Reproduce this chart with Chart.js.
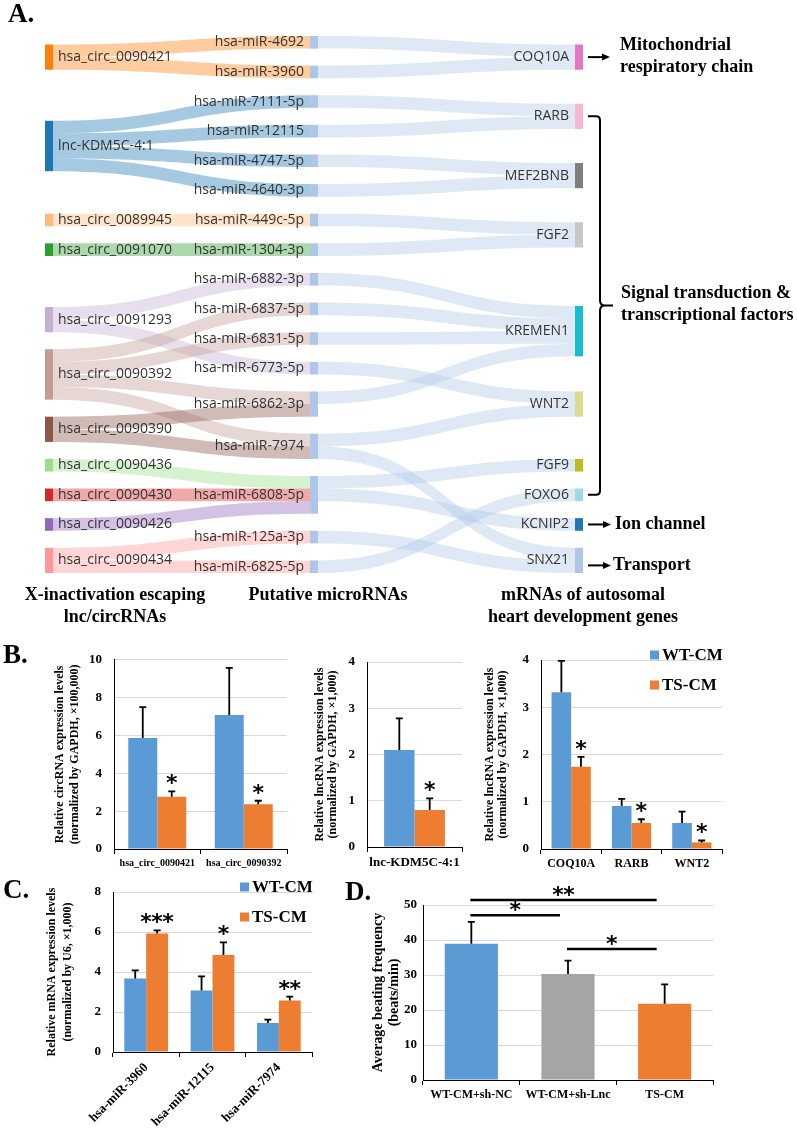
<!DOCTYPE html>
<html>
<head>
<meta charset="utf-8">
<script src="https://cdn.jsdelivr.net/npm/chart.js@4.4.0/dist/chart.umd.min.js"></script>
<style>
  html, body { margin: 0; padding: 0; background: #fff; }
  #page { position: relative; width: 797px; height: 1128px; overflow: hidden; font-family: "Liberation Serif", serif; }
  canvas { position: absolute; }
  .lbl { position: absolute; font-weight: bold; color: #000; white-space: nowrap; }
  .panel { font-size: 27px; line-height: 1; }
  .coltitle { font-size: 18px; line-height: 22px; text-align: center; width: 260px; }
</style>
</head>
<body>
<div id="page">
  <canvas id="sankey" width="797" height="640" style="left:0;top:0;width:797px;height:640px"></canvas>
  <canvas id="circChart" width="250" height="240" style="left:50px;top:640px;width:250px;height:240px"></canvas>
  <canvas id="lncChart" width="170" height="240" style="left:300px;top:640px;width:170px;height:240px"></canvas>
  <canvas id="geneChart" width="327" height="250" style="left:470px;top:630px;width:327px;height:250px"></canvas>
  <canvas id="mirChart" width="300" height="258" style="left:40px;top:870px;width:300px;height:258px"></canvas>
  <canvas id="beatChart" width="457" height="258" style="left:340px;top:870px;width:457px;height:258px"></canvas>

  <div class="lbl panel" style="left:8px;top:0px">A.</div>
  <div class="lbl panel" style="left:3px;top:641px">B.</div>
  <div class="lbl panel" style="left:3px;top:876px">C.</div>
  <div class="lbl panel" style="left:345px;top:878px">D.</div>
  <div class="lbl coltitle" style="left:-15px;top:583px">X-inactivation escaping<br>lnc/circRNAs</div>
  <div class="lbl coltitle" style="left:198px;top:583px">Putative microRNAs</div>
  <div class="lbl coltitle" style="left:453px;top:583px">mRNAs of autosomal<br>heart development genes</div>
</div>
<script>
// ---------- A. escaping lnc/circRNAs -> microRNAs -> autosomal genes
var escapingRNAs = ['hsa_circ_0090421', 'lnc-KDM5C-4:1', 'hsa_circ_0089945', 'hsa_circ_0091070',
  'hsa_circ_0091293', 'hsa_circ_0090392', 'hsa_circ_0090390', 'hsa_circ_0090436',
  'hsa_circ_0090430', 'hsa_circ_0090426', 'hsa_circ_0090434'];
var putativeMiRNAs = ['hsa-miR-4692', 'hsa-miR-3960', 'hsa-miR-7111-5p', 'hsa-miR-12115',
  'hsa-miR-4747-5p', 'hsa-miR-4640-3p', 'hsa-miR-449c-5p', 'hsa-miR-1304-3p', 'hsa-miR-6882-3p',
  'hsa-miR-6837-5p', 'hsa-miR-6831-5p', 'hsa-miR-6773-5p', 'hsa-miR-6862-3p', 'hsa-miR-7974',
  'hsa-miR-6808-5p', 'hsa-miR-125a-3p', 'hsa-miR-6825-5p'];
var heartGenes = ['COQ10A', 'RARB', 'MEF2BNB', 'FGF2', 'KREMEN1', 'WNT2', 'FGF9', 'FOXO6', 'KCNIP2', 'SNX21'];

var rnaMiRNALinks = [
  ['hsa_circ_0090421', 'hsa-miR-4692'], ['hsa_circ_0090421', 'hsa-miR-3960'],
  ['lnc-KDM5C-4:1', 'hsa-miR-7111-5p'], ['lnc-KDM5C-4:1', 'hsa-miR-12115'],
  ['lnc-KDM5C-4:1', 'hsa-miR-4747-5p'], ['lnc-KDM5C-4:1', 'hsa-miR-4640-3p'],
  ['hsa_circ_0089945', 'hsa-miR-449c-5p'], ['hsa_circ_0091070', 'hsa-miR-1304-3p'],
  ['hsa_circ_0091293', 'hsa-miR-6882-3p'], ['hsa_circ_0091293', 'hsa-miR-6773-5p'],
  ['hsa_circ_0090392', 'hsa-miR-6837-5p'], ['hsa_circ_0090392', 'hsa-miR-6831-5p'],
  ['hsa_circ_0090392', 'hsa-miR-6862-3p'], ['hsa_circ_0090392', 'hsa-miR-7974'],
  ['hsa_circ_0090390', 'hsa-miR-6862-3p'], ['hsa_circ_0090390', 'hsa-miR-7974'],
  ['hsa_circ_0090436', 'hsa-miR-6808-5p'], ['hsa_circ_0090430', 'hsa-miR-6808-5p'],
  ['hsa_circ_0090426', 'hsa-miR-6808-5p'],
  ['hsa_circ_0090434', 'hsa-miR-125a-3p'], ['hsa_circ_0090434', 'hsa-miR-6825-5p']
];
var miRNAGeneLinks = [
  ['hsa-miR-4692', 'COQ10A'], ['hsa-miR-3960', 'COQ10A'],
  ['hsa-miR-7111-5p', 'RARB'], ['hsa-miR-12115', 'RARB'],
  ['hsa-miR-4747-5p', 'MEF2BNB'], ['hsa-miR-4640-3p', 'MEF2BNB'],
  ['hsa-miR-449c-5p', 'FGF2'], ['hsa-miR-1304-3p', 'FGF2'],
  ['hsa-miR-6882-3p', 'KREMEN1'], ['hsa-miR-6837-5p', 'KREMEN1'],
  ['hsa-miR-6831-5p', 'KREMEN1'], ['hsa-miR-6862-3p', 'KREMEN1'],
  ['hsa-miR-6773-5p', 'WNT2'], ['hsa-miR-7974', 'WNT2'], ['hsa-miR-7974', 'SNX21'],
  ['hsa-miR-6808-5p', 'FGF9'], ['hsa-miR-6808-5p', 'KCNIP2'],
  ['hsa-miR-125a-3p', 'SNX21'], ['hsa-miR-6825-5p', 'FOXO6']
];
var unitsPerLink = 1;

// node colours (d3 category20 like the original tool)
var escapingColors = ['#ff7f0e', '#1f77b4', '#ffbb78', '#2ca02c', '#c5b0d5', '#c49c94',
  '#8c564b', '#98df8a', '#d62728', '#9467bd', '#ff9896'];
var miRNAColor = '#aec7e8';
var geneColors = ['#e377c2', '#f7b6d2', '#7f7f7f', '#c7c7c7', '#17becf', '#dbdb8d',
  '#bcbd22', '#9edae5', '#1f77b4', '#aec7e8'];

// ---------- B. expression levels
var circCategories = ['hsa_circ_0090421', 'hsa_circ_0090392'];
var circWT = [5.87, 7.08];
var circWTErr = [7.5, 9.57];
var circTS = [2.76, 2.37];
var circTSErr = [3.05, 2.55];
var circMarks = ['*', '*'];

var lncCategories = ['lnc-KDM5C-4:1'];
var lncWT = [2.1];
var lncWTErr = [2.78];
var lncTS = [0.8];
var lncTSErr = [1.05];
var lncMarks = ['*'];

var geneCategories = ['COQ10A', 'RARB', 'WNT2'];
var geneWT = [3.32, 0.91, 0.55];
var geneWTErr = [3.98, 1.06, 0.79];
var geneTS = [1.74, 0.55, 0.14];
var geneTSErr = [1.95, 0.63, 0.18];
var geneMarks = ['*', '*', '*'];

// ---------- C. microRNA levels
var mirCategories = ['hsa-miR-3960', 'hsa-miR-12115', 'hsa-miR-7974'];
var mirWT = [3.68, 3.08, 1.45];
var mirWTErr = [4.08, 3.78, 1.62];
var mirTS = [5.93, 4.85, 2.57];
var mirTSErr = [6.08, 5.48, 2.77];
var mirMarks = ['***', '*', '**'];

// ---------- D. beating frequency
var beatCategories = ['WT-CM+sh-NC', 'WT-CM+sh-Lnc', 'TS-CM'];
var beatValues = [38.9, 30.3, 21.8];
var beatErr = [45.2, 34.1, 27.3];
var beatColors = ['#5b9bd5', '#a5a5a5', '#ed7d31'];
var beatComparisons = [[0, 2, '**'], [0, 1, '*'], [1, 2, '*']];
var beatComparisonLevels = [51.4, 47.1, 37.4];

var WT_BLUE = '#5b9bd5';
var TS_ORANGE = '#ed7d31';
var SERIF = 'Liberation Serif';

Chart.defaults.font.family = SERIF;
Chart.defaults.color = '#000';

// ================= sankey layout (in flow units) =================
var GAP = 1.35;      // space between nodes in a column, flow units
var NODE_W = 8;      // px
var LINK_ALPHA = 0.4;

var columns = [escapingRNAs, putativeMiRNAs, heartGenes];
var columnColors = [escapingColors, null, geneColors];
var nodeMap = {};
columns.forEach(function(names, c) {
  names.forEach(function(name, i) {
    nodeMap[name] = {
      name: name, col: c, order: i, inLinks: [], outLinks: [],
      color: c === 1 ? miRNAColor : columnColors[c][i]
    };
  });
});
var flowLinks = rnaMiRNALinks.concat(miRNAGeneLinks).map(function(p) {
  var link = { source: nodeMap[p[0]], target: nodeMap[p[1]], value: unitsPerLink };
  link.source.outLinks.push(link);
  link.target.inLinks.push(link);
  return link;
});

function sum(arr, f) { return arr.reduce(function(a, d) { return a + f(d); }, 0); }

Object.keys(nodeMap).forEach(function(k) {
  var n = nodeMap[k];
  n.value = Math.max(sum(n.inLinks, function(l) { return l.value; }),
                     sum(n.outLinks, function(l) { return l.value; }));
  n.inLinks.sort(function(a, b) { return a.source.order - b.source.order; });
  n.outLinks.sort(function(a, b) { return a.target.order - b.target.order; });
});

var colNodes = columns.map(function(names) { return names.map(function(n) { return nodeMap[n]; }); });
function spanOf(ns) { return sum(ns, function(n) { return n.value; }) + (ns.length - 1) * GAP; }
var FLOW_H = Math.max.apply(null, colNodes.map(spanOf));

function stackLinks(n) {
  var y = n.y0;
  n.outLinks.forEach(function(l) { l.y0 = y; y += l.value; });
  y = n.y0;
  n.inLinks.forEach(function(l) { l.y1 = y; y += l.value; });
}

// put each node at its wanted centre, then push apart keeping the order
function place(ns, centerOf) {
  ns.forEach(function(n) { n.y0 = centerOf(n) - n.value / 2; });
  var y = 0;
  ns.forEach(function(n) { if (n.y0 < y) n.y0 = y; y = n.y0 + n.value + GAP; });
  y = FLOW_H;
  for (var i = ns.length - 1; i >= 0; i--) {
    var n = ns[i];
    if (n.y0 + n.value > y) n.y0 = y - n.value;
    y = n.y0 - GAP;
  }
  ns.forEach(function(n) { n.y1 = n.y0 + n.value; });
}

// densest column (microRNAs) is simply stacked
(function() {
  var y = 0;
  colNodes[1].forEach(function(n) { n.y0 = y; n.y1 = y + n.value; y = n.y1 + GAP; });
  colNodes[1].forEach(stackLinks);
  place(colNodes[0], function(n) {
    return sum(n.outLinks, function(l) { return (l.y1 + l.value / 2) * l.value; }) /
           sum(n.outLinks, function(l) { return l.value; });
  });
  place(colNodes[2], function(n) {
    return sum(n.inLinks, function(l) { return (l.y0 + l.value / 2) * l.value; }) /
           sum(n.inLinks, function(l) { return l.value; });
  });
  colNodes[0].forEach(stackLinks);
  colNodes[2].forEach(stackLinks);
})();

function withAlpha(hex, a) {
  var v = parseInt(hex.slice(1), 16);
  return 'rgba(' + (v >> 16) + ',' + ((v >> 8) & 255) + ',' + (v & 255) + ',' + a + ')';
}

var sankeyPainter = {
  id: 'sankeyPainter',
  afterDraw: function(chart) {
    var ctx = chart.ctx;
    var X = function(c) { return chart.scales.x.getPixelForValue(c); };
    var Y = function(v) { return chart.scales.y.getPixelForValue(v); };
    ctx.save();

    flowLinks.forEach(function(l) {
      var x0 = X(l.source.col) + NODE_W, x1 = X(l.target.col), xm = (x0 + x1) / 2;
      var s0 = Y(l.y0), s1 = Y(l.y0 + l.value), t0 = Y(l.y1), t1 = Y(l.y1 + l.value);
      ctx.fillStyle = withAlpha(l.source.color, LINK_ALPHA);
      ctx.beginPath();
      ctx.moveTo(x0, s0);
      ctx.bezierCurveTo(xm, s0, xm, t0, x1, t0);
      ctx.lineTo(x1, t1);
      ctx.bezierCurveTo(xm, t1, xm, s1, x0, s1);
      ctx.closePath();
      ctx.fill();
    });

    ctx.font = '14px "Open Sans"';
    ctx.textBaseline = 'middle';
    Object.keys(nodeMap).forEach(function(k) {
      var n = nodeMap[k];
      var x = X(n.col), y0 = Y(n.y0), y1 = Y(n.y1);
      ctx.fillStyle = n.color;
      ctx.fillRect(x, y0, NODE_W, y1 - y0);
      ctx.fillStyle = '#333';
      if (n.col === 0) {
        ctx.textAlign = 'left';
        ctx.fillText(n.name, x + NODE_W + 5, (y0 + y1) / 2);
      } else {
        ctx.textAlign = 'right';
        ctx.fillText(n.name, x - 6, (y0 + y1) / 2);
      }
    });

    // functional groups on the right
    var right = X(2) + NODE_W;
    var mid = function(name) { return (Y(nodeMap[name].y0) + Y(nodeMap[name].y1)) / 2; };
    ctx.strokeStyle = '#000';
    ctx.fillStyle = '#000';
    ctx.lineWidth = 2;
    var arrow = function(yy, len) {
      var x0 = right + 5, x1 = right + 5 + len;
      ctx.beginPath(); ctx.moveTo(x0, yy); ctx.lineTo(x1 - 6, yy); ctx.stroke();
      ctx.beginPath(); ctx.moveTo(x1, yy); ctx.lineTo(x1 - 8, yy - 3.5); ctx.lineTo(x1 - 8, yy + 3.5);
      ctx.closePath(); ctx.fill();
    };
    ctx.font = 'bold 18px "' + SERIF + '"';
    ctx.textAlign = 'left';

    var yc = mid('COQ10A');
    arrow(yc, 22);
    ctx.fillText('Mitochondrial', right + 37, yc - 12);
    ctx.fillText('respiratory chain', right + 37, yc + 10);

    var yTop = mid('RARB'), yBot = mid('FOXO6'), yMid = (yTop + yBot) / 2;
    var xs = right + 5, xv = right + 17;
    ctx.beginPath();
    ctx.moveTo(xs, yTop);
    ctx.lineTo(xv - 4, yTop);
    ctx.quadraticCurveTo(xv, yTop, xv, yTop + 4);
    ctx.lineTo(xv, yMid - 5);
    ctx.quadraticCurveTo(xv, yMid, xv + 5, yMid);
    ctx.lineTo(xv + 13, yMid);
    ctx.moveTo(xv + 5, yMid);
    ctx.quadraticCurveTo(xv, yMid, xv, yMid + 5);
    ctx.lineTo(xv, yBot - 4);
    ctx.quadraticCurveTo(xv, yBot, xv - 4, yBot);
    ctx.lineTo(xs, yBot);
    ctx.stroke();
    ctx.fillText('Signal transduction &', right + 38, yMid - 12);
    ctx.fillText('transcriptional factors', right + 38, yMid + 10);

    var yk = mid('KCNIP2');
    arrow(yk, 23);
    ctx.fillText('Ion channel', right + 32, yk);

    var ysn = mid('SNX21') + 5;
    arrow(ysn, 23);
    ctx.fillText('Transport', right + 30, ysn);

    ctx.restore();
  }
};

new Chart(document.getElementById('sankey'), {
  type: 'scatter',
  data: { datasets: [] },
  options: {
    responsive: false, animation: false, events: [],
    layout: { padding: { left: 45, right: 222, top: 36, bottom: 67 }, autoPadding: false },
    plugins: { legend: { display: false }, tooltip: { enabled: false } },
    scales: {
      x: { type: 'linear', min: 0, max: 2, display: false },
      y: { type: 'linear', min: 0, max: FLOW_H, reverse: true, display: false }
    }
  },
  plugins: [sankeyPainter]
});

// ================= bar panels =================
function drawStars(ctx, marks, cx, cy) {
  ctx.save();
  ctx.font = 'bold 20px "DejaVu Sans"';
  var m = ctx.measureText('*');
  var size = 20 * 11 / (m.actualBoundingBoxAscent + m.actualBoundingBoxDescent);
  ctx.font = 'bold ' + size.toFixed(1) + 'px "DejaVu Sans"';
  m = ctx.measureText('*');
  var base = cy + (m.actualBoundingBoxAscent - m.actualBoundingBoxDescent) / 2;
  ctx.fillStyle = '#000';
  ctx.textAlign = 'center';
  ctx.textBaseline = 'alphabetic';
  for (var k = 0; k < marks.length; k++) {
    ctx.fillText('*', cx + (k - (marks.length - 1) / 2) * 11, base);
  }
  ctx.restore();
}

var errorBars = {
  id: 'errorBars',
  afterDatasetsDraw: function(chart) {
    var ctx = chart.ctx, y = chart.scales.y;
    chart.data.datasets.forEach(function(ds, di) {
      chart.getDatasetMeta(di).data.forEach(function(bar, i) {
        var top = y.getPixelForValue(ds.errHigh[i]);
        ctx.save();
        ctx.strokeStyle = '#000';
        ctx.lineWidth = 1.8;
        ctx.beginPath();
        ctx.moveTo(bar.x, bar.y);
        ctx.lineTo(bar.x, top);
        ctx.moveTo(bar.x - 3.5, top);
        ctx.lineTo(bar.x + 3.5, top);
        ctx.stroke();
        ctx.restore();
        if (ds.marks && ds.marks[i]) drawStars(ctx, ds.marks[i], bar.x, top - 12);
      });
    });
  }
};

function sideTitle(lines, offsets, size) {
  return {
    id: 'sideTitle',
    afterDraw: function(chart) {
      var ctx = chart.ctx, ca = chart.chartArea;
      ctx.save();
      ctx.font = 'bold ' + size + 'px "' + SERIF + '"';
      ctx.fillStyle = '#000';
      ctx.textAlign = 'center';
      ctx.textBaseline = 'middle';
      lines.forEach(function(line, i) {
        ctx.save();
        ctx.translate(ca.left - offsets[i], (ca.top + ca.bottom) / 2);
        ctx.rotate(-Math.PI / 2);
        ctx.fillText(line, 0, 0);
        ctx.restore();
      });
      ctx.restore();
    }
  };
}

var cornerLegend = {
  id: 'cornerLegend',
  afterDraw: function(chart) {
    var ctx = chart.ctx, ca = chart.chartArea;
    ctx.save();
    ctx.font = 'bold 17px "' + SERIF + '"';
    ctx.textAlign = 'left';
    ctx.textBaseline = 'middle';
    chart.data.datasets.forEach(function(ds, i) {
      var x = ca.right - 72, y = ca.top - 5 + i * 30;
      ctx.fillStyle = ds.backgroundColor;
      ctx.fillRect(x, y - 4.5, 9, 9);
      ctx.fillStyle = '#000';
      ctx.fillText(ds.label, x + 12, y + 1);
    });
    ctx.restore();
  }
};

function barPanel(id, o) {
  var extra = [errorBars, sideTitle(o.title, o.titleOffsets, o.titleSize)];
  if (o.legend) extra.push(cornerLegend);
  if (o.more) extra.push(o.more);
  return new Chart(document.getElementById(id), {
    type: 'bar',
    data: { labels: o.labels, datasets: o.datasets },
    options: {
      responsive: false, animation: false, events: [],
      layout: { padding: { top: o.padTop, right: o.padRight, left: 0, bottom: 0 }, autoPadding: false },
      datasets: { bar: { categoryPercentage: o.catPct, barPercentage: 1 } },
      plugins: { legend: { display: false }, tooltip: { enabled: false } },
      scales: {
        x: {
          grid: { offset: true, drawOnChartArea: false, drawTicks: true, tickLength: 5, color: '#000', lineWidth: 1 },
          border: { color: '#000', width: 1 },
          ticks: {
            color: '#000', autoSkip: false, padding: 3,
            minRotation: o.rot || 0, maxRotation: o.rot || 0,
            font: { family: SERIF, weight: 'bold', size: o.xFont }
          },
          afterFit: function(s) { s.height = o.xHeight; }
        },
        y: {
          min: 0, max: o.yMax,
          grid: {
            drawTicks: false, lineWidth: 1,
            color: function(c) { return c.tick.value === 0 ? 'rgba(0,0,0,0)' : '#d9d9d9'; }
          },
          border: { color: '#000', width: 1 },
          ticks: { stepSize: o.yStep, color: '#000', padding: o.yPad || 12, font: { family: SERIF, weight: 'bold', size: 13 } },
          afterFit: function(s) { s.width = o.yWidth; }
        }
      }
    },
    plugins: extra
  });
}

function pairSets(wt, wtErr, ts, tsErr, marks) {
  return [
    { label: 'WT-CM', data: wt, errHigh: wtErr, backgroundColor: WT_BLUE },
    { label: 'TS-CM', data: ts, errHigh: tsErr, marks: marks, backgroundColor: TS_ORANGE }
  ];
}

barPanel('circChart', {
  labels: circCategories, datasets: pairSets(circWT, circWTErr, circTS, circTSErr, circMarks),
  yMax: 10, yStep: 2, yWidth: 64, padTop: 19, padRight: 13, xHeight: 31, xFont: 10, catPct: 0.67,
  title: ['Relative circRNA expression levels', '(normalized by GAPDH, \u00d7100,000)'],
  titleOffsets: [54, 39], titleSize: 12
});

barPanel('lncChart', {
  labels: lncCategories, datasets: pairSets(lncWT, lncWTErr, lncTS, lncTSErr, lncMarks),
  yMax: 4, yStep: 1, yWidth: 67, padTop: 22, padRight: 8, xHeight: 33, xFont: 13, catPct: 0.64,
  title: ['Relative lncRNA expression levels', '(normalized by GAPDH, \u00d71,000)'],
  titleOffsets: [47, 34], titleSize: 12
});

barPanel('geneChart', {
  labels: geneCategories, datasets: pairSets(geneWT, geneWTErr, geneTS, geneTSErr, geneMarks),
  yMax: 4, yStep: 1, yWidth: 71, padTop: 30, padRight: 75, xHeight: 31, xFont: 12, catPct: 0.65,
  title: ['Relative lncRNA expression levels', '(normalized by GAPDH, \u00d71,000)'],
  titleOffsets: [51, 38], titleSize: 12, legend: true
});

barPanel('mirChart', {
  labels: mirCategories, datasets: pairSets(mirWT, mirWTErr, mirTS, mirTSErr, mirMarks),
  yMax: 8, yStep: 2, yWidth: 73, padTop: 22, padRight: 28, xHeight: 76, xFont: 13, catPct: 0.66, rot: 45,
  title: ['Relative mRNA expression levels', '(normalized by U6, \u00d71,000)'],
  titleOffsets: [61, 45], titleSize: 12, legend: true
});

var beatBrackets = {
  id: 'beatBrackets',
  afterDraw: function(chart) {
    var ctx = chart.ctx, y = chart.scales.y, bars = chart.getDatasetMeta(0).data;
    ctx.save();
    ctx.strokeStyle = '#000';
    ctx.lineWidth = 2.5;
    beatComparisons.forEach(function(cmp, k) {
      var yy = y.getPixelForValue(beatComparisonLevels[k]);
      var x0 = bars[cmp[0]].x - 1, x1 = bars[cmp[1]].x - 8;
      ctx.beginPath();
      ctx.moveTo(x0, yy);
      ctx.lineTo(x1, yy);
      ctx.stroke();
      drawStars(ctx, cmp[2], (x0 + x1) / 2, yy - 9);
    });
    ctx.restore();
  }
};

barPanel('beatChart', {
  labels: beatCategories,
  datasets: [{ label: 'beats', data: beatValues, errHigh: beatErr, backgroundColor: beatColors }],
  yMax: 50, yStep: 10, yWidth: 83, yPad: 6, padTop: 35, padRight: 84, xHeight: 48, xFont: 12, catPct: 0.55,
  title: ['Average beating frequency', '(beats/min)'],
  titleOffsets: [45, 29], titleSize: 14, more: beatBrackets
});
</script>
</body>
</html>
